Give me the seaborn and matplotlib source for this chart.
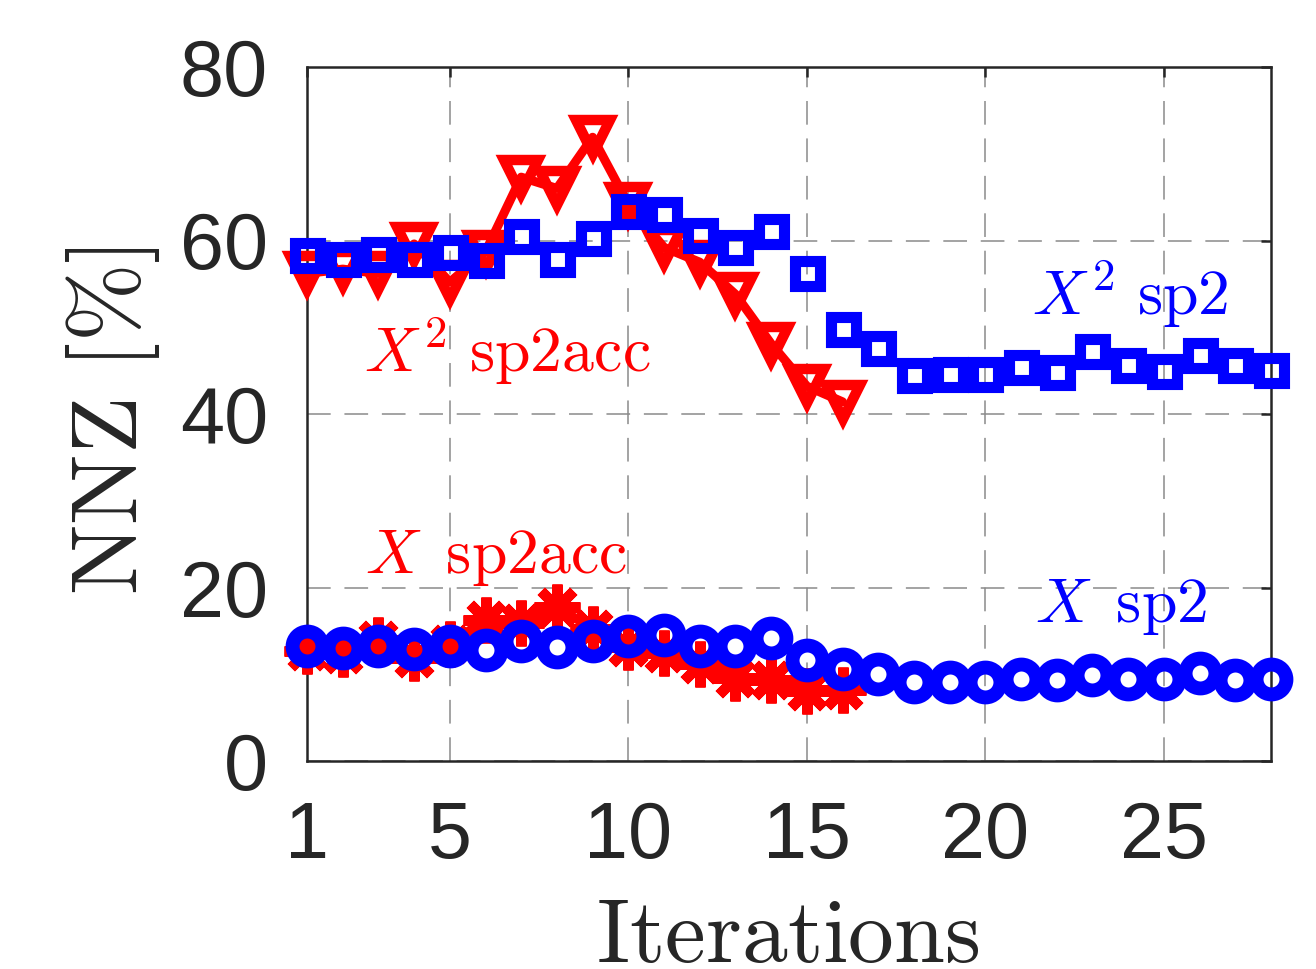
import numpy as np
import pandas as pd
import matplotlib
matplotlib.use("Agg")
import matplotlib.pyplot as plt
import seaborn as sns

# ---------------- data ----------------
iters_acc = list(range(1, 17))
iters_sp2 = list(range(1, 29))

x2_sp2acc = [56.2, 56.7, 56.2, 59.6, 55.2, 58.7, 67.3, 66.0, 71.9, 64.2,
             59.2, 57.5, 53.8, 48.1, 43.2, 41.4]
x_sp2acc = [12.7, 12.3, 13.9, 11.9, 13.5, 16.3, 15.9, 17.8, 15.2, 13.1,
            12.5, 11.2, 9.6, 9.3, 8.1, 8.2]
x2_sp2 = [58.3, 57.9, 58.4, 57.9, 58.7, 57.8, 60.5, 57.9, 60.3, 63.4,
          63.0, 60.6, 59.2, 61.1, 56.2, 49.8, 47.6, 44.5, 44.6, 44.6,
          45.4, 44.8, 47.3, 45.7, 45.0, 46.8, 45.7, 45.1]
x_sp2 = [13.3, 13.0, 13.2, 12.9, 13.2, 12.8, 13.8, 13.1, 13.8, 14.4,
         14.5, 13.2, 13.2, 14.2, 11.7, 10.6, 10.0, 9.1, 9.1, 9.1,
         9.5, 9.3, 9.9, 9.4, 9.5, 10.1, 9.3, 9.5]

xticks = [1, 5, 10, 15, 20, 25]
yticks = [0, 20, 40, 60, 80]

# ---------------- style ----------------
sns.set_style("white")
plt.rcParams["font.family"] = ["Liberation Sans", "DejaVu Sans"]
plt.rcParams["mathtext.fontset"] = "cm"

fig = plt.figure(figsize=(13.16, 9.69), dpi=100)
ax = fig.add_axes([307 / 1316, 1 - 761 / 969, 964 / 1316, 694 / 969])

RED = "#ff0000"
BLUE = "#0000ff"

common = dict(ax=ax, legend=False, clip_on=False, markerfacecolor="none")

sns.lineplot(x=iters_acc, y=x_sp2acc, color=RED, lw=6.5, marker=(8, 2, 0),
             markersize=33, markeredgewidth=7.5, markeredgecolor=RED,
             zorder=3, **common)
sns.lineplot(x=iters_acc, y=x2_sp2acc, color=RED, lw=6.5, marker="v",
             markersize=25, markeredgewidth=7.5, markeredgecolor=RED,
             zorder=3, **common)
sns.lineplot(x=iters_sp2, y=x2_sp2, color=BLUE, lw=0, marker="s",
             markersize=18, markeredgewidth=8, markeredgecolor=BLUE,
             zorder=4, **common)
sns.lineplot(x=iters_sp2, y=x_sp2, color=BLUE, lw=0, marker="o",
             markersize=21.5, markeredgewidth=10, markeredgecolor=BLUE,
             zorder=4, **common)

ax.set_xlim(1, 28)
ax.set_ylim(0, 80)
ax.set_xticks(xticks)
ax.set_yticks(yticks)
ax.set_xticklabels([str(t) for t in xticks])
ax.set_yticklabels([str(t) for t in yticks])

ax.grid(True, linestyle=(0, (15.5, 9)), color="#8a8a8a", lw=1.1)
ax.set_axisbelow(True)

for s in ax.spines.values():
    s.set_visible(True)
    s.set_color("#262626")
    s.set_linewidth(1.8)

ax.tick_params(axis="both", which="major", direction="in", length=7,
               width=1.8, color="#262626", labelcolor="#262626",
               labelsize=57, top=True, right=True)
ax.tick_params(axis="x", pad=28)
ax.tick_params(axis="y", pad=28)

ax.set_xlabel(r"$\mathrm{Iterations}$", fontsize=66, color="#262626")
ax.xaxis.label.set_va("baseline")
ax.xaxis.set_label_coords(0.4985, (761 - 962) / 694)

ax.set_ylabel(r"$\mathrm{NNZ\ [\%]}$", fontsize=68, color="#262626",
              rotation=90, rotation_mode="anchor")
ax.yaxis.label.set_va("baseline")
ax.yaxis.label.set_ha("center")
ax.yaxis.set_label_coords((137 - 307) / 964, (761 - 421) / 694)

ann_fs = 46
ax.text(2.6, 44.8, r"$X^2\ \mathrm{sp2acc}$", color=RED, fontsize=ann_fs,
        ha="left", va="baseline")
ax.text(21.3, 51.4, r"$X^2\ \mathrm{sp2}$", color=BLUE, fontsize=ann_fs,
        ha="left", va="baseline")
ax.text(2.62, 21.7, r"$X\ \,\mathrm{sp2acc}$", color=RED, fontsize=ann_fs,
        ha="left", va="baseline")
ax.text(21.4, 16.0, r"$X\ \,\mathrm{sp2}$", color=BLUE, fontsize=ann_fs,
        ha="left", va="baseline")

fig.savefig("out.png", dpi=100)
